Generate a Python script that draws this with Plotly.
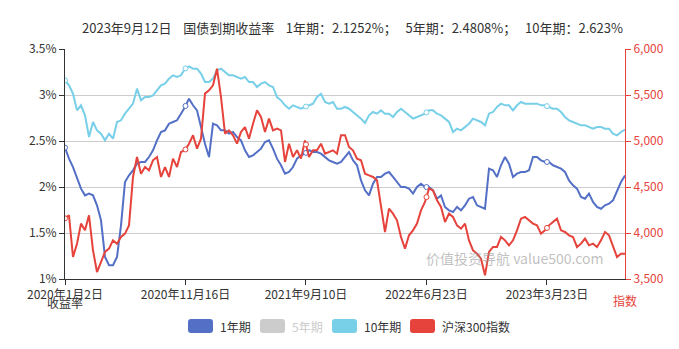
import numpy as np
import plotly.graph_objects as go

# ---------------- data ----------------
tick_labels = ["2020年1月2日", "2020年11月16日", "2021年9月10日", "2022年6月23日", "2023年3月23日"]
tick_days = [0, 193, 386, 579, 772]
total_days = 897

y1 = [2.428, 2.308, 2.217, 2.109, 1.982, 1.909, 1.928, 1.909, 1.801, 1.638,
      1.239, 1.149, 1.149, 1.239, 1.583, 2.054, 2.127, 2.181, 2.254, 2.272,
      2.272, 2.326, 2.399, 2.507,
      2.598, 2.616, 2.688, 2.707, 2.725, 2.797, 2.870, 2.960, 2.888, 2.833,
      2.652, 2.471, 2.326, 2.688, 2.670, 2.616, 2.616, 2.580, 2.598, 2.543,
      2.507, 2.399, 2.326,
      2.344, 2.380, 2.417, 2.489, 2.507, 2.417, 2.308, 2.236, 2.145, 2.163,
      2.217, 2.308, 2.344, 2.362, 2.399, 2.380, 2.380, 2.362, 2.326, 2.290,
      2.272, 2.254, 2.272,
      2.326, 2.380, 2.290, 2.236, 2.072, 1.964, 1.909, 2.036, 2.109, 2.109,
      2.145, 2.163, 2.109, 2.054, 2.000, 2.000, 1.982, 1.928, 2.000, 2.036,
      2.000, 2.000, 1.964,
      1.873, 1.909, 1.783, 1.746, 1.728, 1.783, 1.746, 1.801, 1.873, 1.891,
      1.801, 1.783, 1.764, 2.199, 2.181, 2.109, 2.236, 2.326, 2.254, 2.109,
      2.145, 2.163, 2.163, 2.181,
      2.326, 2.326, 2.290, 2.272, 2.272, 2.236, 2.217, 2.199, 2.163, 2.072,
      2.018, 1.982, 1.891, 1.873, 1.928, 1.837, 1.783, 1.764, 1.801, 1.819,
      1.855, 1.964, 2.054, 2.1252]

y10 = [3.159, 3.105, 3.014, 2.833, 2.888, 2.779, 2.543, 2.707, 2.616, 2.580,
       2.507, 2.580, 2.525, 2.707, 2.725, 2.797, 2.851, 2.906, 3.069, 2.942,
       2.978, 2.978, 2.996, 3.051,
       3.105, 3.123, 3.178, 3.214, 3.196, 3.214, 3.286, 3.312, 3.286, 3.286,
       3.232, 3.141, 3.141, 3.178, 3.268, 3.286, 3.250, 3.214, 3.214, 3.196,
       3.178, 3.196, 3.141,
       3.141, 3.087, 3.123, 3.141, 3.105, 3.087, 2.978, 2.942, 2.888, 2.851,
       2.888, 2.870, 2.851, 2.870, 2.888, 2.906, 2.978, 3.014, 2.924, 2.906,
       2.924, 2.851, 2.851,
       2.870, 2.851, 2.815, 2.779, 2.743, 2.696, 2.779, 2.815, 2.797, 2.833,
       2.797, 2.797, 2.761, 2.815, 2.851, 2.815, 2.779, 2.743, 2.761, 2.779,
       2.797, 2.833, 2.833,
       2.797, 2.779, 2.743, 2.707, 2.598, 2.634, 2.616, 2.652, 2.688, 2.743,
       2.725, 2.707, 2.670, 2.797, 2.815, 2.870, 2.906, 2.888, 2.888, 2.833,
       2.888, 2.924, 2.906, 2.906,
       2.906, 2.906, 2.888, 2.888, 2.870, 2.851, 2.851, 2.815, 2.761, 2.725,
       2.707, 2.688, 2.670, 2.670, 2.652, 2.634, 2.652, 2.652, 2.634, 2.634,
       2.580, 2.562, 2.598, 2.623]

csi300 = [4159, 4192, 3739, 3884, 4102, 4029, 4192, 3812, 3576, 3685,
          3794, 3830, 3920, 3884, 3957, 3993, 4083, 4609, 4826, 4645,
          4717, 4681, 4790, 4826,
          4609, 4717, 4609, 4808, 4717, 4880, 4899, 4971, 5062, 4917,
          5025, 5515, 5551, 5605, 5786, 5478, 5080, 5116, 5062, 4971,
          5098, 5152, 5025,
          5188, 5333, 5261, 5098, 5243, 5116, 5134, 5116, 4772, 4971,
          4826, 4899, 4808, 5007, 4826, 4899, 4899, 4971, 4862, 4880,
          4899, 4862, 5062,
          5062, 4935, 4899, 4808, 4790, 4645, 4627, 4609, 4573, 4283,
          4011, 4265, 4210, 4138, 3957, 3830, 3975, 4029, 4102, 4246,
          4337, 4482, 4464,
          4355, 4283, 4120, 4210, 4174, 4083, 4047, 4102, 3920, 3812,
          3775, 3721, 3540, 3794, 3848, 3848, 3957, 3920, 3866, 3920,
          4029, 4156, 4174, 4138,
          4102, 4083, 3993, 4029, 4083, 4120, 4156, 4029, 4011, 3975,
          3957, 3848, 3884, 3939, 3866, 3884, 3848, 3920, 4011, 3975,
          3848, 3739, 3775, 3775]

series_names = ["1年期", "5年期", "10年期", "沪深300指数"]
SP3 = "\u00a0" * 4
SP2 = "\u00a0" * 3
title_text = ("2023年9月12日" + SP3 + "国债到期收益率" + SP3 +
              "1年期：2.1252%；" + SP2 + "5年期：2.4808%；" + SP2 + "10年期：2.623%")

# ---------------- style ----------------
BLUE = "#5470c6"
GREY = "#cccccc"
LBLUE = "#78cfe8"
RED = "#e5433b"
TXT = "#333333"
FONT = "Noto Sans CJK SC, Noto Sans, sans-serif"

W, H = 679, 349
L, R, T, B = 65, 54, 49, 70
PW, PH = W - L - R, H - T - B

days = np.linspace(0, total_days, len(y1))

fig = go.Figure()
fig.add_trace(go.Scatter(x=days, y=y1, mode="lines", name=series_names[0],
                         line=dict(color=BLUE, width=2), showlegend=False))
fig.add_trace(go.Scatter(x=days, y=y10, mode="lines", name=series_names[2],
                         line=dict(color=LBLUE, width=2), showlegend=False))
fig.add_trace(go.Scatter(x=days, y=csi300, mode="lines", name=series_names[3], yaxis="y2",
                         line=dict(color=RED, width=2), showlegend=False))

# hollow symbols at label positions
for ys, col, ax in [(y1, BLUE, "y"), (y10, LBLUE, "y"), (csi300, RED, "y2")]:
    fig.add_trace(go.Scatter(x=tick_days, y=np.interp(tick_days, days, ys), mode="markers",
                             yaxis=ax, showlegend=False, hoverinfo="skip",
                             marker=dict(size=5, color="white", line=dict(color=col, width=1))))

def px2paper_x(px):
    return (px - L) / PW

def px2paper_y(py):
    return (H - B - py) / PH

def rounded_rect(x0, y0, x1, y1_, r):
    # pixel coordinates -> paper path with rounded corners
    rx, ry = r / PW, r / PH
    a, b = px2paper_x(x0), px2paper_x(x1)
    top, bot = px2paper_y(y0), px2paper_y(y1_)
    return (f"M {a+rx},{top} L {b-rx},{top} Q {b},{top} {b},{top-ry} "
            f"L {b},{bot+ry} Q {b},{bot} {b-rx},{bot} L {a+rx},{bot} "
            f"Q {a},{bot} {a},{bot+ry} L {a},{top-ry} Q {a},{top} {a+rx},{top} Z")

shapes = []
annotations = []
legend_x = [188, 260, 332, 410]
legend_cols = [BLUE, GREY, LBLUE, RED]
legend_txt_cols = [TXT, GREY, TXT, TXT]
ly = 326
for lx, col, tcol, nm in zip(legend_x, legend_cols, legend_txt_cols, series_names):
    shapes.append(dict(type="path", xref="paper", yref="paper",
                       path=rounded_rect(lx, ly - 7, lx + 25, ly + 7, 3),
                       fillcolor=col, line=dict(width=0)))
    annotations.append(dict(text=nm, xref="paper", yref="paper", x=px2paper_x(lx + 30),
                            y=px2paper_y(ly), xanchor="left", yanchor="middle", showarrow=False,
                            font=dict(size=12, color=tcol, family=FONT)))

annotations += [
    dict(text=title_text, xref="paper", yref="paper", x=px2paper_x(352), y=px2paper_y(27),
         xanchor="center", yanchor="middle", showarrow=False,
         font=dict(size=13, color=TXT, family=FONT)),
    dict(text="收益率", xref="paper", yref="paper", x=0, y=px2paper_y(302),
         xanchor="center", yanchor="middle", showarrow=False,
         font=dict(size=12, color=TXT, family=FONT)),
    dict(text="指数", xref="paper", yref="paper", x=1, y=px2paper_y(300),
         xanchor="center", yanchor="middle", showarrow=False,
         font=dict(size=12, color=RED, family=FONT)),
    dict(text="价值投资导航 value500.com", xref="paper", yref="paper", x=px2paper_x(515),
         y=px2paper_y(258), xanchor="center", yanchor="middle", showarrow=False,
         font=dict(size=14, color="rgba(150,150,150,0.6)", family=FONT)),
]

fig.update_layout(
    width=W, height=H,
    margin=dict(l=L, r=R, t=T, b=B, pad=0),
    paper_bgcolor="white", plot_bgcolor="white",
    font=dict(family=FONT, size=12, color=TXT),
    showlegend=False,
    xaxis=dict(range=[0, total_days], tickvals=tick_days, ticktext=tick_labels,
               showline=True, linecolor=TXT, linewidth=1, ticks="outside", ticklen=5,
               tickcolor=TXT, showgrid=False, zeroline=False,
               tickfont=dict(size=12, color=TXT)),
    yaxis=dict(range=[1, 3.5], tickvals=[1, 1.5, 2, 2.5, 3, 3.5],
               ticktext=["1%", "1.5%", "2%", "2.5%", "3%", "3.5%"],
               showline=True, linecolor=TXT, linewidth=1, ticks="outside", ticklen=5,
               tickcolor=TXT, showgrid=True, gridcolor="#cccccc", gridwidth=1, zeroline=False,
               tickfont=dict(size=12, color=TXT)),
    yaxis2=dict(range=[3500, 6000], tickvals=[3500, 4000, 4500, 5000, 5500, 6000],
                tickformat=",d", overlaying="y", side="right",
                showline=True, linecolor=RED, linewidth=1, ticks="outside", ticklen=5,
                tickcolor=RED, showgrid=False, zeroline=False,
                tickfont=dict(size=12, color=RED)),
    shapes=shapes,
    annotations=annotations,
)

fig.write_html("out.html")
